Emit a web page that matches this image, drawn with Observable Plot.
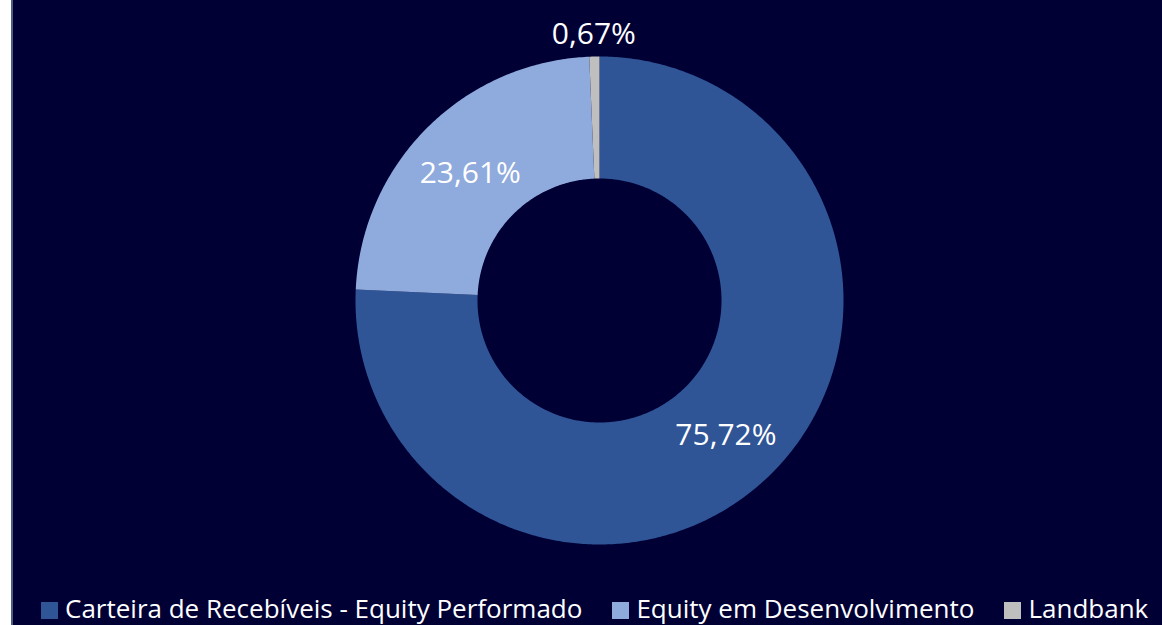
<!DOCTYPE html>
<html>
<head>
<meta charset="utf-8">
<script src="https://cdn.jsdelivr.net/npm/d3@7"></script>
<script src="https://cdn.jsdelivr.net/npm/@observablehq/plot@0.6"></script>
<style>
  html, body { margin: 0; padding: 0; background: #ffffff; overflow: hidden; }
  #frame {
    position: absolute; left: 11px; top: 0; width: 1149px; height: 625px;
    background: #000035; border-left: 2px solid #4d5d82; overflow: hidden;
    font-family: "Open Sans", "Noto Sans", sans-serif;
  }
  #chart { position: absolute; left: 0; top: 0; }
  #legend {
    position: absolute; left: 28px; top: 593px; display: flex; gap: 30px;
    color: #ffffff; font-size: 26px; line-height: 30px; white-space: nowrap;
  }
  .item { display: flex; align-items: center; }
  .sw { width: 17px; height: 17px; margin-right: 7px; position: relative; top: 2px; }
</style>
</head>
<body>
<div id="frame">
  <div id="chart"></div>
  <div id="legend"></div>
</div>
<script>
const categories = ["Carteira de Recebíveis - Equity Performado", "Equity em Desenvolvimento", "Landbank"];
const shares = [75.72, 23.61, 0.67];
const labels = ["75,72%", "23,61%", "0,67%"];
const colors = ["#2f5597", "#8faadc", "#bfbfbf"];

const W = 1149, H = 625;
const cx = 586, cy = 300, R = 244;
const innerFrac = 0.5;

const pie = d3.pie().sort(null).value(d => d.share);
const rows = categories.map((c, i) => ({cat: c, share: shares[i], label: labels[i]}));
const arcs = pie(rows);

// polygon points for each slice (unit circle coordinates, angle clockwise from top)
const pts = [];
arcs.forEach(a => {
  const n = Math.max(8, Math.ceil((a.endAngle - a.startAngle) / 0.01));
  for (let k = 0; k <= n; k++) {
    const t = a.startAngle + (a.endAngle - a.startAngle) * k / n;
    pts.push({cat: a.data.cat, x: Math.sin(t), y: Math.cos(t)});
  }
  for (let k = n; k >= 0; k--) {
    const t = a.startAngle + (a.endAngle - a.startAngle) * k / n;
    pts.push({cat: a.data.cat, x: innerFrac * Math.sin(t), y: innerFrac * Math.cos(t)});
  }
});

const labelPts = arcs.map(a => {
  const m = (a.startAngle + a.endAngle) / 2;
  const r = a.data.share < 5 ? 1.1 : 0.75;
  return {label: a.data.label, x: r * Math.sin(m), y: r * Math.cos(m) - 0.01};
});

const plot = Plot.plot({
  width: W, height: H,
  margin: 0,
  style: {background: "transparent", fontFamily: "'Open Sans', 'Noto Sans', sans-serif"},
  x: {domain: [-1, 1], range: [cx - R, cx + R], axis: null},
  y: {domain: [-1, 1], range: [cy + R, cy - R], axis: null},
  color: {domain: categories, range: colors},
  marks: [
    Plot.line(pts, {x: "x", y: "y", z: "cat", fill: "cat", stroke: null, curve: "linear-closed"}),
    Plot.text(labelPts, {x: "x", y: "y", text: "label", fill: "#ffffff", fontSize: 30})
  ]
});
document.getElementById("chart").appendChild(plot);

const lg = document.getElementById("legend");
categories.forEach((c, i) => {
  const it = document.createElement("div");
  it.className = "item";
  const sw = document.createElement("span");
  sw.className = "sw";
  sw.style.background = colors[i];
  const tx = document.createElement("span");
  tx.textContent = c;
  it.appendChild(sw); it.appendChild(tx);
  lg.appendChild(it);
});
</script>
</body>
</html>
